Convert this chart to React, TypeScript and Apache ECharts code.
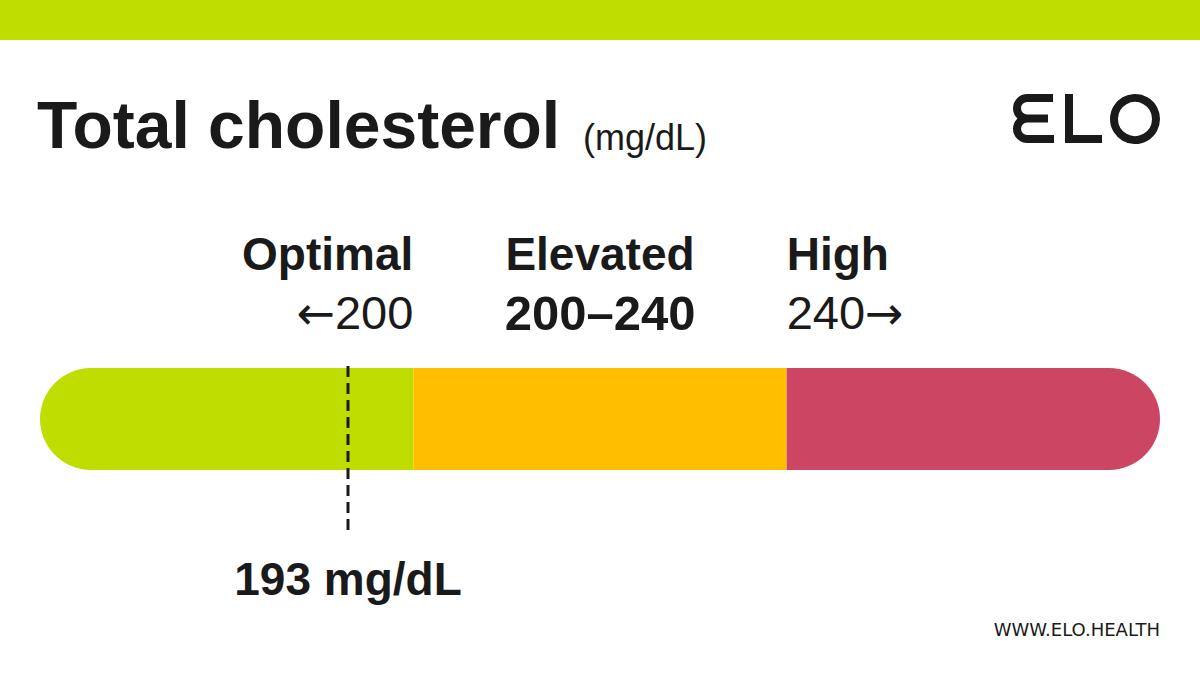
import React, { useEffect, useRef } from "react";
import * as echarts from "echarts";

const zoneNames = ["Optimal", "Elevated", "High"];
const zoneRanges = ["←200", "200–240", "240→"];
const zoneStarts = [160, 200, 240];
const zoneEnds = [200, 240, 280];
const zoneColors = ["#bfdd00", "#ffbf00", "#cc4562"];
const readingValue = 193;
const readingUnit = "mg/dL";
const titleText = "Total cholesterol";
const titleUnit = "(mg/dL)";
const siteText = "WWW.ELO.HEALTH";

const INK = "#1a1a1a";
const FONT = "'Liberation Sans', Arial, sans-serif";
const ARROW_FONT = "'DejaVu Sans', sans-serif";

let registered = false;
function registerLogo() {
  if (registered) return;
  registered = true;
  const d =
    "M 40 4 H 14.25 A 10.25 10.25 0 0 0 14.25 24.5 H 35 M 14.25 24.5 A 10.25 10.25 0 0 0 14.25 45 H 41";
  echarts.graphic.registerShape("eloE", echarts.graphic.extendPath(d, {}) as any);
}

function rangeRich(text: string, numStyle: string) {
  return text
    .split(/([←→])/)
    .filter((s) => s.length > 0)
    .map((s) => (/[←→]/.test(s) ? `{a|${s}}` : `{${numStyle}|${s}}`))
    .join("");
}

export default function App() {
  const ref = useRef<HTMLDivElement>(null);

  useEffect(() => {
    document.body.style.margin = "0";
    registerLogo();
    const chart = echarts.init(ref.current!, undefined, { renderer: "svg" });

    const labelAligns = ["right", "center", "left"];
    const labelX = ["100%", "50%", "0%"];
    const radius = 51;

    const barSeries = zoneNames.map((name, i) => ({
      type: "bar",
      name,
      stack: "zones",
      xAxisIndex: 0,
      yAxisIndex: 0,
      barWidth: "100%",
      silent: true,
      data: [
        {
          value: zoneEnds[i] - zoneStarts[i],
          itemStyle: {
            color: zoneColors[i],
            borderRadius:
              i === 0 ? [radius, 0, 0, radius] : i === zoneNames.length - 1 ? [0, radius, radius, 0] : 0,
          },
        },
      ],
      label: {
        show: true,
        position: [labelX[i], -26],
        align: labelAligns[i],
        verticalAlign: "bottom",
        formatter: `{n|${name}}\n${rangeRich(zoneRanges[i], i === 1 ? "rb" : "r")}`,
        rich: {
          n: { fontFamily: FONT, fontSize: 46, fontWeight: "bold", color: INK, lineHeight: 59 },
          r: { fontFamily: FONT, fontSize: 47, fontWeight: "normal", color: INK, lineHeight: 59 },
          rb: { fontFamily: FONT, fontSize: 49, fontWeight: "bold", color: INK, lineHeight: 59 },
          a: { fontFamily: ARROW_FONT, fontSize: 46, fontWeight: "normal", color: INK, lineHeight: 59 },
        },
      },
    }));

    // transparent offset so the stacked zones begin at the first zone start
    const baseSeries = {
      type: "bar",
      stack: "zones",
      xAxisIndex: 0,
      yAxisIndex: 0,
      silent: true,
      data: [zoneStarts[0]],
      itemStyle: { color: "transparent" },
    };

    const option: any = {
      animation: false,
      backgroundColor: "#ffffff",
      grid: [
        { left: 40, right: 40, top: 368, height: 102 },
        { left: 40, right: 40, top: 366, height: 167 },
      ],
      xAxis: [
        { type: "value", gridIndex: 0, min: zoneStarts[0], max: zoneEnds[zoneEnds.length - 1], show: false },
        { type: "value", gridIndex: 1, min: zoneStarts[0], max: zoneEnds[zoneEnds.length - 1], show: false },
      ],
      yAxis: [
        { type: "category", gridIndex: 0, data: ["Total"], show: false },
        { type: "value", gridIndex: 1, min: 0, max: 1, show: false },
      ],
      series: [
        baseSeries,
        ...barSeries,
        {
          type: "line",
          xAxisIndex: 1,
          yAxisIndex: 1,
          silent: true,
          symbol: "circle",
          symbolSize: 1,
          showSymbol: true,
          itemStyle: { color: "rgba(0,0,0,0)" },
          lineStyle: { color: INK, width: 3, type: [11, 6] },
          z: 10,
          data: [
            [readingValue, 1],
            {
              value: [readingValue, 0],
              label: {
                show: true,
                position: "bottom",
                distance: 22,
                formatter: `${readingValue} ${readingUnit}`,
                fontFamily: FONT,
                fontSize: 46,
                fontWeight: "bold",
                color: INK,
              },
            },
          ],
        },
      ],
      graphic: [
        { type: "rect", shape: { x: 0, y: 0, width: 1200, height: 40 }, style: { fill: "#bfdd00" }, silent: true },
        {
          type: "text",
          x: 37,
          y: 125,
          style: {
            text: titleText,
            fontFamily: FONT,
            fontSize: 66,
            fontWeight: "bold",
            fill: INK,
            align: "left",
            verticalAlign: "middle",
          },
        },
        {
          type: "text",
          x: 583,
          y: 137,
          style: {
            text: titleUnit,
            fontFamily: FONT,
            fontSize: 36,
            fill: INK,
            align: "left",
            verticalAlign: "middle",
          },
        },
        {
          type: "text",
          x: 1160,
          y: 629,
          style: {
            text: siteText,
            fontFamily: ARROW_FONT,
            fontSize: 18,
            fill: INK,
            align: "right",
            verticalAlign: "middle",
          },
        },
        {
          type: "eloE",
          x: 1013,
          y: 94,
          style: { fill: "none", stroke: INK, lineWidth: 8 },
        },
        {
          type: "polyline",
          shape: { points: [[1069, 94], [1069, 139], [1102, 139]] },
          style: { fill: "none", stroke: INK, lineWidth: 8 },
        },
        {
          type: "circle",
          shape: { cx: 1135, cy: 119, r: 21 },
          style: { fill: "none", stroke: INK, lineWidth: 8 },
        },
      ],
    };

    chart.setOption(option);
    return () => chart.dispose();
  }, []);

  return <div ref={ref} style={{ width: 1200, height: 675 }} />;
}
